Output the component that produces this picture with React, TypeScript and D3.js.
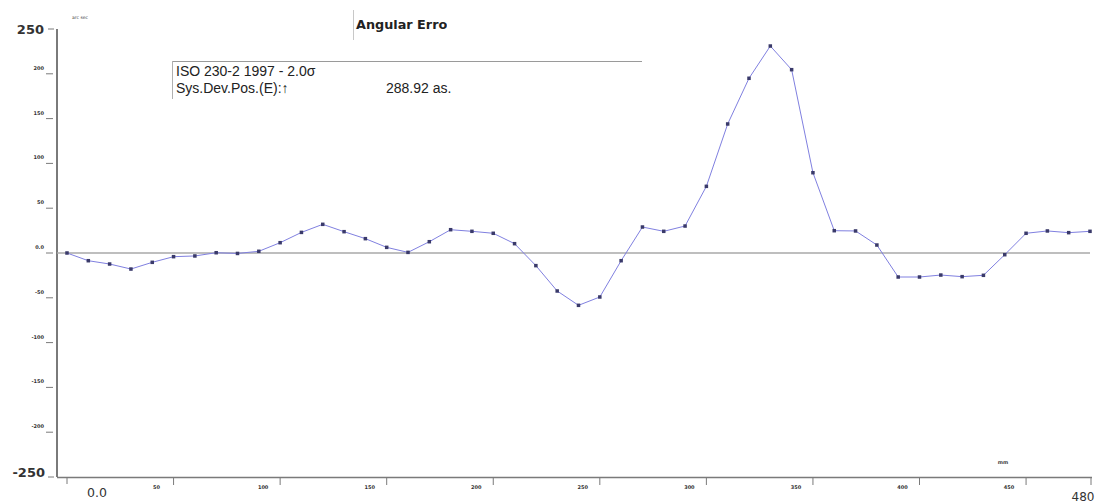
import React from "react";
import * as d3 from "d3";

const positions: number[] = [
  0, 10, 20, 30, 40, 50, 60, 70, 80, 90, 100, 110, 120, 130, 140, 150, 160, 170, 180, 190,
  200, 210, 220, 230, 240, 250, 260, 270, 280, 290, 300, 310, 320, 330, 340, 350, 360, 370,
  380, 390, 400, 410, 420, 430, 440, 450, 460, 470, 480,
];
const errors: number[] = [
  0, -8.6, -12.3, -17.9, -10.4, -4.1, -3.3, 0.3, -0.5, 1.9, 11.5, 23, 32, 23.8, 16, 6.3, 0.7,
  12.6, 26, 24.2, 22, 10.4, -14.1, -42.4, -58.4, -49.1, -8.6, 29, 24.2, 30.1, 74.4, 144, 195,
  231, 204.6, 89.6, 24.9, 24.6, 8.9, -26.8, -26.8, -24.6, -26.4, -24.9, -1.9, 22, 24.6, 22.7,
  24.2,
];
const yTicks: number[] = [200, 150, 100, 50, 0, -50, -100, -150, -200];
const yTickLabels: string[] = ["200", "150", "100", "50", "0.0", "-50", "-100", "-150", "-200"];
const xTicks: number[] = [50, 100, 150, 200, 250, 300, 350, 400, 450];
const xTickLabels: string[] = ["50", "100", "150", "200", "250", "300", "350", "400", "450"];
const titleText = "Angular Error";
const legendLine1 = "ISO 230-2 1997 - 2.0\u03c3";
const legendLine2 = "Sys.Dev.Pos.(E):\u2191";
const legendValue = "288.92 as.";
const yUnit = "arc sec";
const xUnit = "mm";

export default function App() {
  const W = 1101;
  const H = 504;
  const x = d3.scaleLinear().domain([0, 480]).range([67, 1090]);
  const y = d3.scaleLinear().domain([-250, 250]).range([477, 29]);
  const line = d3
    .line<number>()
    .x((_, i) => x(positions[i]))
    .y((d) => y(d));
  const font = "'DejaVu Sans', Verdana, sans-serif";
  const sans = "'Liberation Sans', Arial, sans-serif";
  const axisColor = "#7a7a7a";
  return (
    <svg
      width={W}
      height={H}
      style={{ position: "absolute", left: 0, top: 0, background: "#fff" }}
      fontFamily={font}
    >
      <defs>
        <clipPath id="titleClip">
          <rect x={353} y={8} width={94} height={34} />
        </clipPath>
      </defs>
      {/* title */}
      <line x1={353.5} x2={353.5} y1={10} y2={40} stroke="#c8c8c8" strokeWidth={1} />
      <text
        x={356}
        y={29}
        fontSize={12.8}
        fontWeight="bold"
        fontFamily={font}
        fill="#222"
        clipPath="url(#titleClip)"
      >
        {titleText}
      </text>
      {/* legend */}
      <line x1={172} x2={642} y1={61.5} y2={61.5} stroke="#9a9a9a" strokeWidth={1} />
      <line x1={172.5} x2={172.5} y1={61} y2={99} stroke="#b0b0b0" strokeWidth={1} />
      <text x={176} y={76} fontSize={14} fontFamily={sans} fill="#222">
        {legendLine1}
      </text>
      <text x={176} y={93} fontSize={14} fontFamily={sans} fill="#222">
        {legendLine2}
      </text>
      <text x={386} y={93} fontSize={14} fontFamily={sans} fill="#222">
        {legendValue}
      </text>
      {/* unit labels */}
      <text x={80} y={19} fontSize={4.5} fill="#444" textAnchor="middle">
        {yUnit}
      </text>
      <text x={1003} y={464} fontSize={5} fill="#444" textAnchor="middle" fontWeight="bold">
        {xUnit}
      </text>
      {/* y axis */}
      <line x1={57} x2={57} y1={y(250)} y2={y(-250)} stroke={axisColor} strokeWidth={2} />
      <line x1={48} x2={54} y1={y(250)} y2={y(250)} stroke={axisColor} strokeWidth={1} />
      <line x1={48} x2={54} y1={y(-250)} y2={y(-250)} stroke={axisColor} strokeWidth={1} />
      <text x={44} y={y(250) + 5} fontSize={13} fontWeight="bold" fill="#333" textAnchor="end">
        250
      </text>
      <text x={45} y={y(-250)} fontSize={13} fontWeight="bold" fill="#333" textAnchor="end">
        -250
      </text>
      {yTicks.map((t, i) => (
        <g key={"yt" + t}>
          <line x1={46} x2={53} y1={y(t)} y2={y(t)} stroke={axisColor} strokeWidth={1} />
          <text x={44} y={y(t) - 4} fontSize={5} fill="#333" textAnchor="end" fontWeight="bold">
            {yTickLabels[i]}
          </text>
        </g>
      ))}
      {/* x axis */}
      <line x1={57} x2={1092} y1={477.5} y2={477.5} stroke={axisColor} strokeWidth={1.5} />
      <line x1={x(0)} x2={x(0)} y1={478} y2={484} stroke={axisColor} strokeWidth={1} />
      <line x1={x(480) + 1} x2={x(480) + 1} y1={478} y2={485} stroke={axisColor} strokeWidth={1} />
      {xTicks.map((t, i) => (
        <g key={"xt" + t}>
          <line x1={x(t)} x2={x(t)} y1={478} y2={485} stroke={axisColor} strokeWidth={1} />
          <text x={x(t) - 17} y={489} fontSize={5} fill="#333" textAnchor="middle" fontWeight="bold">
            {xTickLabels[i]}
          </text>
        </g>
      ))}
      <text x={97} y={497} fontSize={12.5} fill="#333" textAnchor="middle">
        0.0
      </text>
      <text x={1083} y={501} fontSize={12} fill="#333" textAnchor="middle">
        480
      </text>
      {/* zero line */}
      <line x1={57} x2={1090} y1={y(0)} y2={y(0)} stroke="#a8a8a8" strokeWidth={1.5} />
      {/* data */}
      <path d={line(errors) || ""} fill="none" stroke="#8080e0" strokeWidth={1} />
      {errors.map((v, i) => (
        <rect
          key={"p" + i}
          x={x(positions[i]) - 1.75}
          y={y(v) - 1.75}
          width={3.5}
          height={3.5}
          fill="#3a3a6a"
        />
      ))}
    </svg>
  );
}
